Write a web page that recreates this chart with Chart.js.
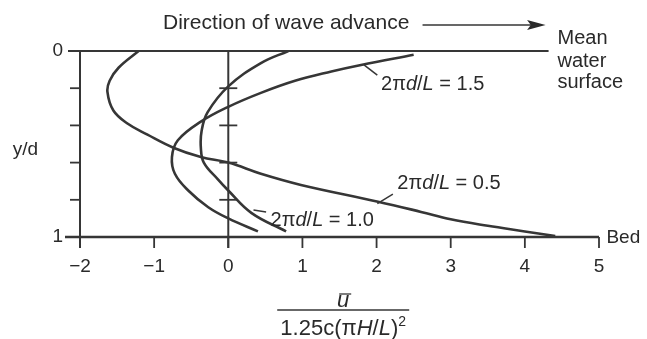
<!DOCTYPE html>
<html>
<head>
<meta charset="utf-8">
<script src="https://cdn.jsdelivr.net/npm/chart.js@4.4.0/dist/chart.umd.min.js"></script>
<style>
  html, body { margin: 0; padding: 0; background: #fff; }
  #wrap { width: 647px; height: 339px; }
</style>
</head>
<body>
<div id="wrap"><canvas id="chart"></canvas></div>
<script>
// axis values
const xTicks = [-2, -1, 0, 1, 2, 3, 4, 5]
const yTicks = [0, 0.2, 0.4, 0.6, 0.8, 1]
const yTickLabels = ['0', '', '', '', '', '1']

// 2πd/L = 0.5
const curve05x = [-1.21, -1.48, -1.60, -1.63, -1.55, -1.36, -1.09, -0.74, -0.37, 0.00, 0.44, 0.98, 2.02, 2.60, 3.00, 3.50, 4.00, 4.41]
const curve05y = [0.00, 0.09, 0.16, 0.22, 0.32, 0.39, 0.45, 0.52, 0.57, 0.60, 0.66, 0.72, 0.81, 0.865, 0.905, 0.94, 0.97, 0.995]

// 2πd/L = 1.0
const curve10x = [0.81, 0.44, 0.00, -0.28, -0.36, -0.37, -0.33, -0.14, 0.00, 0.31, 0.78]
const curve10y = [0.00, 0.065, 0.19, 0.33, 0.43, 0.52, 0.60, 0.69, 0.75, 0.87, 0.97]

// 2πd/L = 1.5
const curve15x = [2.50, 1.79, 1.39, 0.90, 0.44, 0.00, -0.37, -0.68, -0.76, -0.72, -0.54, -0.27, 0.00, 0.40]
const curve15y = [0.02, 0.075, 0.11, 0.16, 0.225, 0.30, 0.38, 0.48, 0.57, 0.66, 0.75, 0.84, 0.90, 0.97]

const toPoints = (xs, ys) => xs.map((x, i) => ({ x: x, y: ys[i] }))

const ink = '#363636'
const font = '"Liberation Sans", Arial, sans-serif'

const curveStyle = {
    showLine: true,
    borderColor: ink,
    borderWidth: 2.6,
    pointRadius: 0,
    tension: 0.4,
    fill: false
}

// draw a row of text pieces, some italic
const drawParts = (ctx, parts, x, y, size, align) => {
    let total = 0
    parts.forEach((p) => {
        ctx.font = `${p.i ? 'italic ' : ''}${p.s || size}px ${font}`
        p.w = ctx.measureText(p.t).width
        total += p.w
    })
    let cx = align == 'center' ? x - total / 2 : x
    parts.forEach((p) => {
        ctx.font = `${p.i ? 'italic ' : ''}${p.s || size}px ${font}`
        ctx.fillText(p.t, cx, y + (p.dy || 0))
        cx += p.w
    })
    return total
}

const overlay = {
    id: 'overlay',
    afterDatasetsDraw(chart) {
        const ctx = chart.ctx
        const xs = chart.scales.x
        const ys = chart.scales.y
        const X = (v) => xs.getPixelForValue(v)
        const Y = (v) => ys.getPixelForValue(v)
        const line = (x1, y1, x2, y2, w) => {
            ctx.beginPath()
            ctx.lineWidth = w || 2
            ctx.moveTo(x1, y1)
            ctx.lineTo(x2, y2)
            ctx.stroke()
        }
        ctx.save()
        ctx.strokeStyle = ink
        ctx.fillStyle = '#2a2a2a'
        ctx.lineCap = 'butt'

        const y0 = Y(0), y1 = Y(1)
        // mean water surface and bed
        line(X(-2) - 12, y0, X(4.32), y0, 2)
        line(X(-2) - 15, y1, X(5), y1, 2.5)
        // left axis and zero line
        line(X(-2), y0, X(-2), y1 + 11, 2)
        line(X(0), y0, X(0), y1 + 11, 2)
        // y ticks
        yTicks.forEach((t) => {
            if (t == 0 || t == 1) return
            line(X(-2) - 10, Y(t), X(-2), Y(t), 1.8)
            line(X(0) - 9, Y(t), X(0) + 9, Y(t), 1.8)
        })
        // x ticks
        xTicks.forEach((t) => {
            line(X(t), y1, X(t), y1 + 11, 1.8)
        })

        ctx.textBaseline = 'middle'
        ctx.textAlign = 'center'
        ctx.font = `19px ${font}`
        xTicks.forEach((t) => {
            ctx.fillText(t < 0 ? '\u2212' + Math.abs(t) : String(t), X(t), y1 + 30)
        })
        ctx.textAlign = 'right'
        yTicks.forEach((t, i) => {
            if (yTickLabels[i]) ctx.fillText(yTickLabels[i], X(-2) - 17, Y(t))
        })
        ctx.fillText('y/d', X(-2) - 42, Y(0.53))

        ctx.textAlign = 'left'
        ctx.font = `21px ${font}`
        ctx.fillText('Direction of wave advance', X(-0.88), y0 - 28)
        // arrow
        line(X(2.62), y0 - 26, X(4.1), y0 - 26, 1.5)
        ctx.beginPath()
        ctx.moveTo(X(4.28), y0 - 26)
        ctx.lineTo(X(4.03), y0 - 31)
        ctx.lineTo(X(4.08), y0 - 26)
        ctx.lineTo(X(4.03), y0 - 21)
        ctx.closePath()
        ctx.fill()

        ctx.font = `20px ${font}`
        ctx.fillText('Mean', X(4.44), y0 - 13)
        ctx.fillText('water', X(4.44), y0 + 10)
        ctx.fillText('surface', X(4.44), y0 + 31)
        ctx.font = `19px ${font}`
        ctx.fillText('Bed', X(5.1), y1 + 1)

        // curve labels with leaders
        const label = (val, lx, ly, a, b) => {
            line(X(a[0]), Y(a[1]), X(b[0]), Y(b[1]), 1.5)
            drawParts(ctx, [
                { t: '2\u03c0' }, { t: 'd', i: true }, { t: '/' }, { t: 'L', i: true }, { t: ' = ' + val }
            ], X(lx), Y(ly), 20, 'left')
        }
        label('1.5', 2.06, 0.18, [1.83, 0.075], [2.01, 0.13])
        label('0.5', 2.28, 0.71, [2.01, 0.82], [2.22, 0.77])
        label('1.0', 0.57, 0.91, [0.34, 0.855], [0.51, 0.865])

        // x axis label as fraction
        const cx = X(1.55)
        ctx.textBaseline = 'alphabetic'
        ctx.font = `italic 22px ${font}`
        ctx.textAlign = 'center'
        ctx.fillText('u', cx, y1 + 70)
        line(cx - 4, y1 + 57, cx + 8, y1 + 57, 1.3)
        line(cx - 66, y1 + 73, cx + 66, y1 + 73, 1.5)
        ctx.textAlign = 'left'
        drawParts(ctx, [
            { t: '1.25c(' }, { t: '\u03c0' }, { t: 'H', i: true }, { t: '/' }, { t: 'L', i: true }, { t: ')' },
            { t: '2', s: 14, dy: -9 }
        ], cx, y1 + 98, 22, 'center')
        ctx.restore()
    }
}

new Chart(document.getElementById('chart'), {
    type: 'scatter',
    data: {
        datasets: [
            Object.assign({ label: '2πd/L = 0.5', data: toPoints(curve05x, curve05y) }, curveStyle),
            Object.assign({ label: '2πd/L = 1.0', data: toPoints(curve10x, curve10y) }, curveStyle),
            Object.assign({ label: '2πd/L = 1.5', data: toPoints(curve15x, curve15y) }, curveStyle)
        ]
    },
    options: {
        responsive: true,
        maintainAspectRatio: false,
        animation: false,
        layout: { padding: { left: 80, right: 48, top: 51, bottom: 102 } },
        plugins: { legend: { display: false }, tooltip: { enabled: false } },
        scales: {
            x: { type: 'linear', min: -2, max: 5, display: false },
            y: { type: 'linear', min: 0, max: 1, reverse: true, display: false }
        }
    },
    plugins: [overlay]
})
</script>
</body>
</html>
